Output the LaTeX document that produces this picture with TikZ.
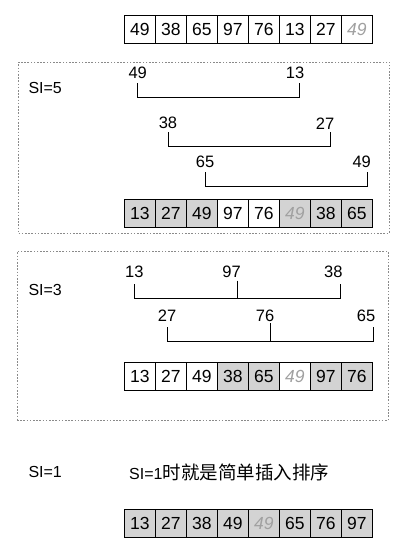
\documentclass[tikz,border=0pt]{standalone}
\usepackage{fontspec}
\setmainfont{Liberation Sans}
\newfontfamily\cjk{Noto Sans CJK SC}
\definecolor{cellgray}{HTML}{D3D3D3}
\definecolor{ghostgray}{HTML}{A0A0A0}
\definecolor{boxgray}{HTML}{8A8A8A}
\newcommand\ghostnum{\textit{49}}
\tikzset{
  cell/.style={draw=black, line width=0.8pt, minimum width=31pt, minimum height=28pt,
    inner sep=0pt, font=\fontsize{17.5}{17.5}\selectfont},
  lab/.style={inner sep=0pt, font=\fontsize{16.5}{16.5}\selectfont},
  silab/.style={inner sep=0pt, anchor=west, font=\fontsize{16}{16}\selectfont},
  br/.style={line width=0.8pt, black},
  groupbox/.style={draw=boxgray, line width=0.6pt, dash pattern=on 1.6pt off 1.6pt}
}
\begin{document}
\begin{tikzpicture}[x=1pt,y=-1pt]
\useasboundingbox (0,0) rectangle (405,543);
\fill[white] (0,0) rectangle (405,543);

% dotted group boxes
\node[groupbox, anchor=north west, minimum width=371pt, minimum height=170.8pt, inner sep=0pt] (g1) at (18.3,61.7) {};
\node[groupbox, anchor=north west, minimum width=371pt, minimum height=169pt, inner sep=0pt] (g2) at (16.7,251) {};

% top array
\foreach \v/\f/\t [count=\i] in {49/white/black,38/white/black,65/white/black,97/white/black,76/white/black,13/white/black,27/white/black,\ghostnum/white/ghostgray}{
  \node[cell, fill=\f, text=\t] (a\i) at ({124.3+15.5+31*(\i-1)},29.5) {\v};
}
% SI=5 result
\foreach \v/\f/\t [count=\i] in {13/cellgray/black,27/cellgray/black,49/cellgray/black,97/white/black,76/white/black,\ghostnum/cellgray/ghostgray,38/cellgray/black,65/cellgray/black}{
  \node[cell, fill=\f, text=\t] (b\i) at ({124.3+15.5+31*(\i-1)},213.2) {\v};
}
% SI=3 result
\foreach \v/\f/\t [count=\i] in {13/white/black,27/white/black,49/white/black,38/cellgray/black,65/cellgray/black,\ghostnum/white/ghostgray,97/cellgray/black,76/cellgray/black}{
  \node[cell, fill=\f, text=\t] (c\i) at ({124.3+15.5+31*(\i-1)},376.7) {\v};
}
% SI=1 result
\foreach \v/\f/\t [count=\i] in {13/cellgray/black,27/cellgray/black,38/cellgray/black,49/cellgray/black,\ghostnum/cellgray/ghostgray,65/cellgray/black,76/cellgray/black,97/cellgray/black}{
  \node[cell, fill=\f, text=\t] (d\i) at ({124.3+15.5+31*(\i-1)},523.2) {\v};
}

% labels
\node[silab] (si5) at (28.3,88.3) {SI=5};
\node[silab] (si3) at (28.3,290) {SI=3};
\node[silab] (si1) at (28.3,472.3) {SI=1};
\node[silab] (note) at (129,472.3) {SI=1{\cjk\fontsize{18.5}{18.5}\selectfont 时就是简单插入排序}};

% SI=5 brackets
\node[lab] (p1a) at (137.7,73.3) {49};
\node[lab] (p1b) at (295,73.3) {13};
\node[lab] (p2a) at (168,123.3) {38};
\node[lab] (p2b) at (325,123.3) {27};
\node[lab] (p3a) at (205,162.3) {65};
\node[lab] (p3b) at (361.7,162.3) {49};
\coordinate (t1a) at (137.7,83.3); \coordinate (t1b) at (299.3,83.3);
\coordinate (t2a) at (168.7,132.3); \coordinate (t2b) at (330.7,132.3);
\coordinate (t3a) at (205.3,172.3); \coordinate (t3b) at (367.3,172.3);
\draw[br] (t1a) -- ++(0,14) -| (t1b);
\draw[br] (t2a) -- ++(0,13.8) -| (t2b);
\draw[br] (t3a) -- ++(0,13.8) -| (t3b);

% SI=3 brackets
\node[lab] (q1a) at (134.3,272.3) {13};
\node[lab] (q1b) at (231.5,272.3) {97};
\node[lab] (q1c) at (333.3,272.3) {38};
\node[lab] (q2a) at (167,316) {27};
\node[lab] (q2b) at (265,316) {76};
\node[lab] (q2c) at (366,316) {65};
\coordinate (u1a) at (134.3,284.3); \coordinate (u1b) at (237.3,280.7); \coordinate (u1c) at (340,284.3);
\coordinate (u2a) at (167.3,327.3); \coordinate (u2b) at (270,323.3); \coordinate (u2c) at (373.3,327.3);
\draw[br] (u1a) -- ++(0,14) -| (u1c);
\draw[br] (u1b) -- ++(0,17.6);
\draw[br] (u2a) -- ++(0,13.7) -| (u2c);
\draw[br] (u2b) -- ++(0,17.7);
\end{tikzpicture}
\end{document}
